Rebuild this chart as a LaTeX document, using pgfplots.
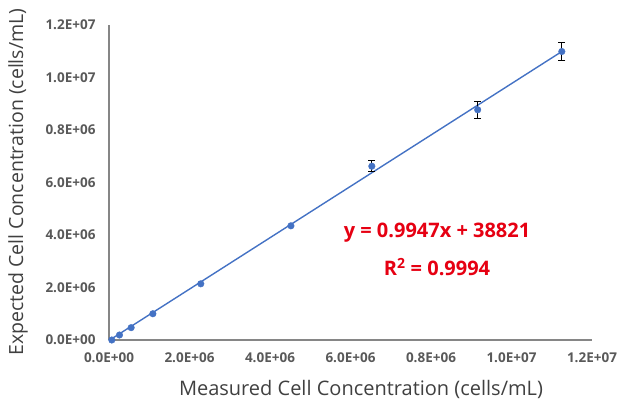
\documentclass[border=0pt]{standalone}
\usepackage{pgfplots}
\pgfplotsset{compat=1.18}
\usepackage{fontspec}
\setmainfont{Open Sans}
\definecolor{axgray}{RGB}{134,134,134}
\definecolor{tickgray}{RGB}{89,89,89}
\definecolor{labgray}{RGB}{64,64,64}
\definecolor{xlblue}{RGB}{68,114,196}
\definecolor{eqred}{RGB}{230,0,18}
\begin{document}
\begin{tikzpicture}
\path[use as bounding box] (-109pt,-64pt) rectangle (513pt,340pt);
\begin{axis}[
  scale only axis,
  width=483pt, height=315pt,
  anchor=south west, at={(0pt,0pt)},
  xmin=0, xmax=1.2e7, ymin=0, ymax=1.2e7,
  axis x line=bottom, axis y line=left,
  axis line style={-, draw=axgray, line width=1.3pt},
  major tick length=0pt,
  scaled ticks=false,
  xtick={0,2e6,4e6,6e6,8e6,1e7,1.2e7},
  ytick={0,2e6,4e6,6e6,8e6,1e7,1.2e7},
  xticklabels={0.0E+00,2.0E+06,4.0E+06,6.0E+06,0.8E+06,1.0E+07,1.2E+07},
  yticklabels={0.0E+00,2.0E+06,4.0E+06,6.0E+06,0.8E+06,1.0E+07,1.2E+07},
  ticklabel style={font=\fontsize{13.5}{15}\selectfont\bfseries, text=tickgray},
  xticklabel style={yshift=-9pt},
  yticklabel style={xshift=-10pt},
  clip=false,
]
\addplot[draw=xlblue, line width=1.4pt, no marks] coordinates {(0.07e6,0.05e6) (11.25e6,10.99e6)};
\addplot[draw=none, mark=none, error bars/.cd, y dir=both, y explicit,
  error bar style={black, line width=1pt}, error mark options={black, line width=1pt, mark size=3.5pt, rotate=90}]
  coordinates {
  (6.53e6,6.62e6) +- (0,0.2e6)
  (9.16e6,8.77e6) +- (0,0.33e6)
  (11.25e6,10.99e6) +- (0,0.36e6)
  };
\addplot[only marks, mark=*, mark size=3.3pt, mark options={fill=xlblue, draw=xlblue}] coordinates {
  (0.07e6,0.0)
  (0.26e6,0.19e6)
  (0.55e6,0.47e6)
  (1.09e6,1.00e6)
  (2.28e6,2.14e6)
  (4.52e6,4.35e6)
  (6.53e6,6.62e6)
  (9.16e6,8.77e6)
  (11.25e6,10.99e6)
};
\end{axis}
\node[text=labgray, font=\fontsize{20}{23}\selectfont] at (252pt,-49pt) {Measured Cell Concentration (cells/mL)};
\node[text=labgray, font=\fontsize{19.5}{22}\selectfont, rotate=90] at (-91pt,158pt) {Expected Cell Concentration (cells/mL)};
\node[text=eqred, font=\fontsize{20}{23}\selectfont\bfseries] at (328pt,107pt) {y = 0.9947x + 38821};
\node[text=eqred, font=\fontsize{20}{23}\selectfont\bfseries] at (328pt,73pt) {R\textsuperscript{2} = 0.9994};
\end{tikzpicture}
\end{document}
